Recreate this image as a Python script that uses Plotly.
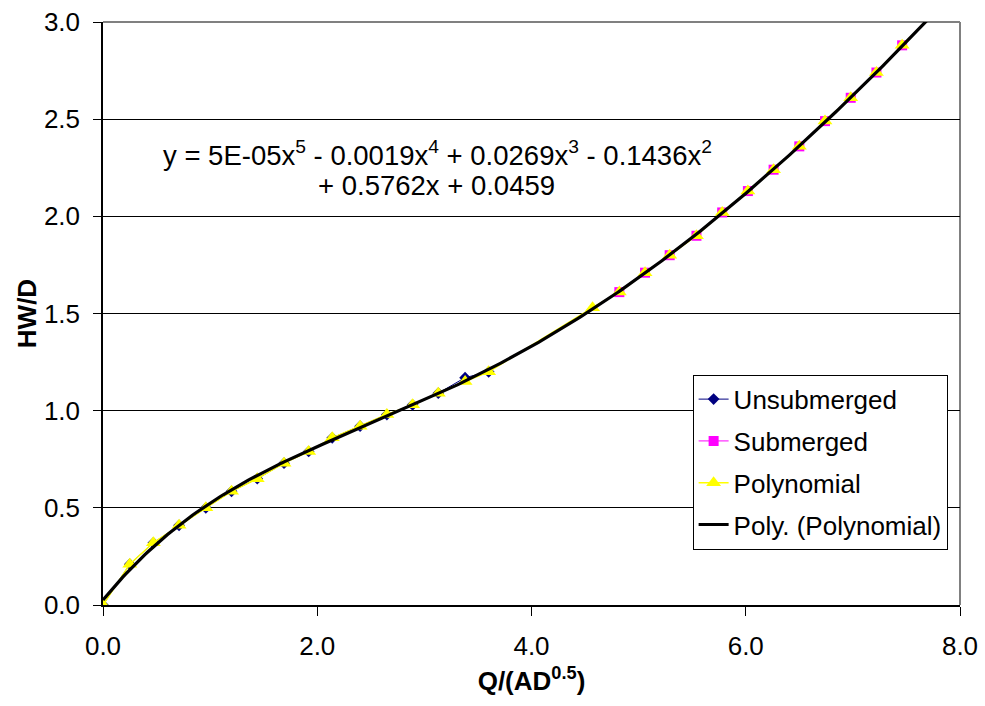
import numpy as np
import plotly.graph_objects as go

# ---- data ----
x_unsub = [0.0, 0.25, 0.47, 0.71, 0.96, 1.20, 1.44, 1.69, 1.92, 2.14, 2.40, 2.65, 2.89, 3.13, 3.38, 3.60]
y_unsub = [0.00, 0.21, 0.32, 0.41, 0.50, 0.585, 0.65, 0.73, 0.79, 0.86, 0.92, 0.98, 1.03, 1.09, 1.17, 1.20]

x_sub = [4.82, 5.06, 5.29, 5.54, 5.78, 6.02, 6.26, 6.50, 6.74, 6.98, 7.22, 7.46]
y_sub = [1.61, 1.71, 1.80, 1.90, 2.02, 2.13, 2.24, 2.36, 2.49, 2.61, 2.74, 2.88]

x_poly = [0.0, 0.25, 0.47, 0.71, 0.96, 1.20, 1.44, 1.69, 1.92, 2.14, 2.40, 2.65, 2.89, 3.13, 3.38, 3.60,
          4.57, 4.82, 5.06, 5.29, 5.54, 5.78, 6.02, 6.26, 6.50, 6.74, 6.98, 7.22, 7.46, 7.72]
y_poly = [0.00, 0.21, 0.32, 0.41, 0.50, 0.585, 0.65, 0.73, 0.79, 0.86, 0.92, 0.98, 1.03, 1.09, 1.15, 1.20,
          1.53, 1.61, 1.71, 1.80, 1.90, 2.02, 2.13, 2.24, 2.36, 2.49, 2.61, 2.74, 2.88, 3.02]

x_ticks = [0, 2, 4, 6, 8]
y_ticks = [0, 0.5, 1.0, 1.5, 2.0, 2.5, 3.0]

eq_line1 = "y = 5E-05x<sup>5</sup> - 0.0019x<sup>4</sup> + 0.0269x<sup>3</sup> - 0.1436x<sup>2</sup>"
eq_line2 = "+ 0.5762x + 0.0459"

# 5th-order trendline fitted to the Polynomial series (as the spreadsheet does)
coef = np.polyfit(x_poly, y_poly, 5)
x_fit = np.linspace(0, 7.8, 300)
y_fit = np.polyval(coef, x_fit)

FONT = "Liberation Sans, Arial, sans-serif"
FS = 26

fig = go.Figure()
fig.add_trace(go.Scatter(
    x=x_unsub, y=y_unsub, name="Unsubmerged", mode="lines+markers",
    line=dict(color="#000080", width=1),
    marker=dict(symbol="diamond", size=9, color="#000080"),
    legendgroup="a"))
fig.add_trace(go.Scatter(
    x=x_sub, y=y_sub, name="Submerged", mode="lines+markers",
    line=dict(color="#FF00FF", width=1),
    marker=dict(symbol="square", size=10, color="#FF00FF"),
    legendgroup="b"))
fig.add_trace(go.Scatter(
    x=x_poly, y=y_poly, name="Polynomial", mode="lines+markers",
    line=dict(color="#FFFF00", width=1.5),
    marker=dict(symbol="triangle-up", size=13, color="#FFFF00"),
    legendgroup="c"))
fig.add_trace(go.Scatter(
    x=x_fit, y=y_fit, name="Poly. (Polynomial)", mode="lines",
    line=dict(color="black", width=3.2),
    legendgroup="d"))

fig.add_annotation(
    x=3.12, y=2.325, xref="x", yref="y", text=eq_line1, showarrow=False,
    font=dict(family=FONT, size=27.5, color="black"))
fig.add_annotation(
    x=3.11, y=2.16, xref="x", yref="y", text=eq_line2, showarrow=False,
    font=dict(family=FONT, size=27.5, color="black"))

# grey plot-area border on top and right
fig.add_shape(type="line", xref="paper", yref="paper", x0=0, x1=1, y0=1, y1=1,
              line=dict(color="#808080", width=2), layer="below")
fig.add_shape(type="line", xref="paper", yref="paper", x0=1, x1=1, y0=0, y1=1,
              line=dict(color="#808080", width=2), layer="below")

fig.update_layout(
    width=985, height=706,
    margin=dict(l=103, r=25, t=22, b=101, autoexpand=False),
    paper_bgcolor="white", plot_bgcolor="white",
    font=dict(family=FONT, size=FS, color="black"),
    showlegend=True,
    legend=dict(
        x=0.688, y=0.395, xanchor="left", yanchor="top",
        bgcolor="white", bordercolor="black", borderwidth=1,
        font=dict(family=FONT, size=FS, color="black"),
        tracegroupgap=5, itemwidth=30),
    xaxis=dict(
        range=[0, 8], tickvals=x_ticks, tickformat=".1f",
        showgrid=False, zeroline=False, automargin=False,
        showline=True, linecolor="black", linewidth=1.5,
        ticks="outside", ticklen=9, tickcolor="black",
        ticklabelstandoff=8,
        tickfont=dict(family=FONT, size=FS),
        title=dict(text="<b>Q/(AD<sup>0.5</sup>)</b>", font=dict(family=FONT, size=FS), standoff=12)),
    yaxis=dict(
        range=[0, 3], tickvals=y_ticks, tickformat=".1f",
        showgrid=True, gridcolor="black", gridwidth=1, zeroline=False, automargin=False,
        showline=True, linecolor="black", linewidth=1.5,
        ticks="outside", ticklen=8, tickcolor="black",
        ticklabelstandoff=8,
        tickfont=dict(family=FONT, size=FS),
        title=dict(text="<b>HW/D</b>", font=dict(family=FONT, size=FS), standoff=0)),
)

fig.write_html("out.html")
